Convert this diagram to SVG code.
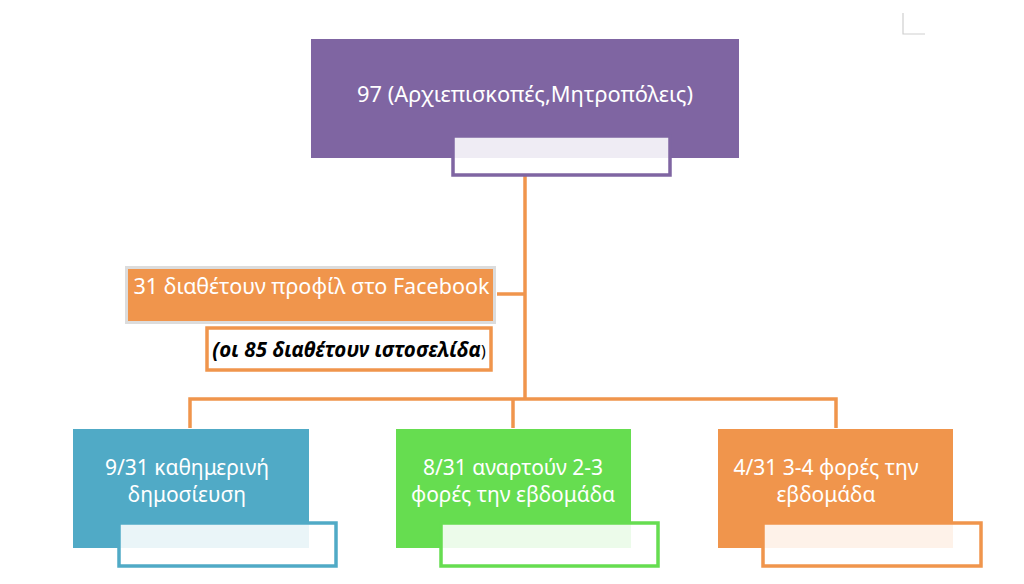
<svg xmlns="http://www.w3.org/2000/svg" width="1024" height="584" viewBox="0 0 1024 584">
<style>
.t{font-family:"Noto Sans","Open Sans","DejaVu Sans",sans-serif;font-size:21px;fill:#ffffff;text-anchor:middle}
.big{font-size:22px}
.conn{fill:none;stroke:#F0954C;stroke-width:3.5;stroke-linejoin:miter}
.inner{fill:#ffffff;fill-opacity:0.88;stroke-width:3.5}
</style>
<rect width="1024" height="584" fill="#ffffff"/>
<path d="M903 13 V34 H925" fill="none" stroke="#cfcfcf" stroke-width="1.2"/>
<g id="connectors">
<path class="conn" d="M525 175 V400"/>
<path class="conn" d="M497 294 H525"/>
<path class="conn" d="M190 428 V399 H836 V428"/>
<path class="conn" d="M513 399 V428"/>
</g>
<g id="top">
<rect x="311" y="39" width="428" height="119" fill="#7F65A2"/>
<text class="t big" x="525" y="102" textLength="336" lengthAdjust="spacingAndGlyphs">97 (Αρχιεπισκοπές,Μητροπόλεις)</text>
<rect class="inner" x="453" y="136" width="217" height="39" stroke="#7F65A2"/>
</g>
<g id="facebook">
<rect x="126.5" y="267.5" width="368" height="55" fill="#F0954C" stroke="#dcdcdc" stroke-width="3"/>
<text class="t big" x="311.5" y="294" textLength="356" lengthAdjust="spacingAndGlyphs">31 διαθέτουν προφίλ στο Facebook</text>
</g>
<g id="website">
<rect x="207" y="328" width="284" height="42" fill="#ffffff" stroke="#F0954C" stroke-width="3.5"/>
<text x="349" y="357" font-family="'Noto Sans','Open Sans','DejaVu Sans',sans-serif" font-size="20.5" fill="#000000" text-anchor="middle"><tspan font-weight="bold" font-style="italic">(οι 85 διαθέτουν ιστοσελίδα</tspan><tspan font-size="16">)</tspan></text>
</g>
<g id="daily">
<rect x="73" y="429" width="236" height="119" fill="#50AAC6"/>
<text class="t" x="187" y="475">9/31 καθημερινή</text>
<text class="t" x="187" y="502">δημοσίευση</text>
<rect class="inner" x="119" y="523" width="217" height="43" stroke="#50AAC6"/>
</g>
<g id="twothree">
<rect x="396" y="429" width="235" height="119" fill="#66DD50"/>
<text class="t" x="513" y="475">8/31 αναρτούν 2-3</text>
<text class="t" x="513" y="502">φορές την εβδομάδα</text>
<rect class="inner" x="441" y="523" width="217" height="43" stroke="#66DD50"/>
</g>
<g id="threefour">
<rect x="718" y="429" width="235" height="119" fill="#F0954C"/>
<text class="t" x="826" y="475">4/31 3-4 φορές την</text>
<text class="t" x="826" y="502">εβδομάδα</text>
<rect class="inner" x="763" y="523" width="218" height="43" stroke="#F0954C"/>
</g>
</svg>
